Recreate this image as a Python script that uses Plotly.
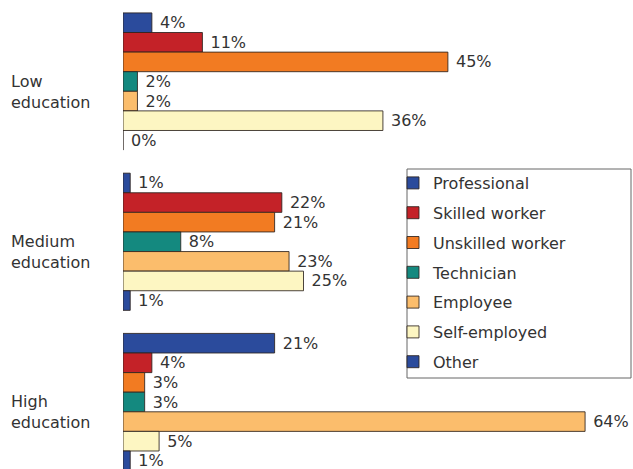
import plotly.graph_objects as go

groups = ["Low<br>education", "Medium<br>education", "High<br>education"]
group_pos = [0, 1, 2]
series_names = ["Professional", "Skilled worker", "Unskilled worker", "Technician",
                "Employee", "Self-employed", "Other"]
professional = [4, 1, 21]
skilled_worker = [11, 22, 4]
unskilled_worker = [45, 21, 3]
technician = [2, 8, 3]
employee = [2, 23, 64]
self_employed = [36, 25, 5]
other = [0, 1, 1]
series_values = [professional, skilled_worker, unskilled_worker, technician,
                 employee, self_employed, other]
colors = ["#2b4b9c", "#c42228", "#f27b22", "#14897f", "#fbbd6c", "#fdf6c2", "#2b4b9c"]

FONT = "DejaVu Sans"

fig = go.Figure()
for name, vals, col in zip(series_names, series_values, colors):
    fig.add_trace(go.Bar(
        y=group_pos, x=vals, orientation="h", name=name,
        legendgroup=name,
        marker=dict(color=col, line=dict(color="rgba(45,35,30,0.85)", width=1)),
        text=vals, texttemplate=" %{x}%", textposition="outside",
        cliponaxis=False, constraintext="none",
        textfont=dict(family=FONT, size=16, color="#333333"),
        hoverinfo="skip",
    ))

L, R = 123, 0
W, H = 633, 469
plot_w = W - L - R
xmax = plot_w / 7.22
gstep = 160.25
y_top = -81.5 / gstep
y_bot = (H - 81.5) / gstep

for g, lab in zip(group_pos, groups):
    fig.add_annotation(
        xref="paper", yref="y", x=(9 - L) / plot_w, y=g + 10 / gstep,
        text=lab, showarrow=False, xanchor="left", yanchor="middle", align="left",
        font=dict(family=FONT, size=16, color="#333333"),
    )

# legend frame
fig.add_shape(type="rect", xref="paper", yref="paper",
              x0=(407 - L) / plot_w, x1=(631 - L) / plot_w,
              y0=1 - 378 / H, y1=1 - 169 / H,
              line=dict(color="#666666", width=1), fillcolor="rgba(0,0,0,0)")

fig.update_layout(
    width=W, height=H,
    margin=dict(l=L, r=R, t=0, b=0, pad=0),
    paper_bgcolor="white", plot_bgcolor="white",
    barmode="group", bargap=0.144, bargroupgap=0,
    showlegend=True,
    legend=dict(
        x=(393 - L) / plot_w, y=1 - 166 / H, xanchor="left", yanchor="top",
        traceorder="grouped", tracegroupgap=6,
        font=dict(family=FONT, size=16, color="#333333"),
        bgcolor="rgba(0,0,0,0)", borderwidth=0,
    ),
    xaxis=dict(range=[0, xmax], visible=False, showgrid=False, zeroline=False),
    yaxis=dict(range=[y_bot, y_top], visible=False, showgrid=False, zeroline=False),
)

fig.write_html("out.html",
               config={"displayModeBar": False},
               post_script="document.body.style.margin='0';document.body.style.padding='0';")
